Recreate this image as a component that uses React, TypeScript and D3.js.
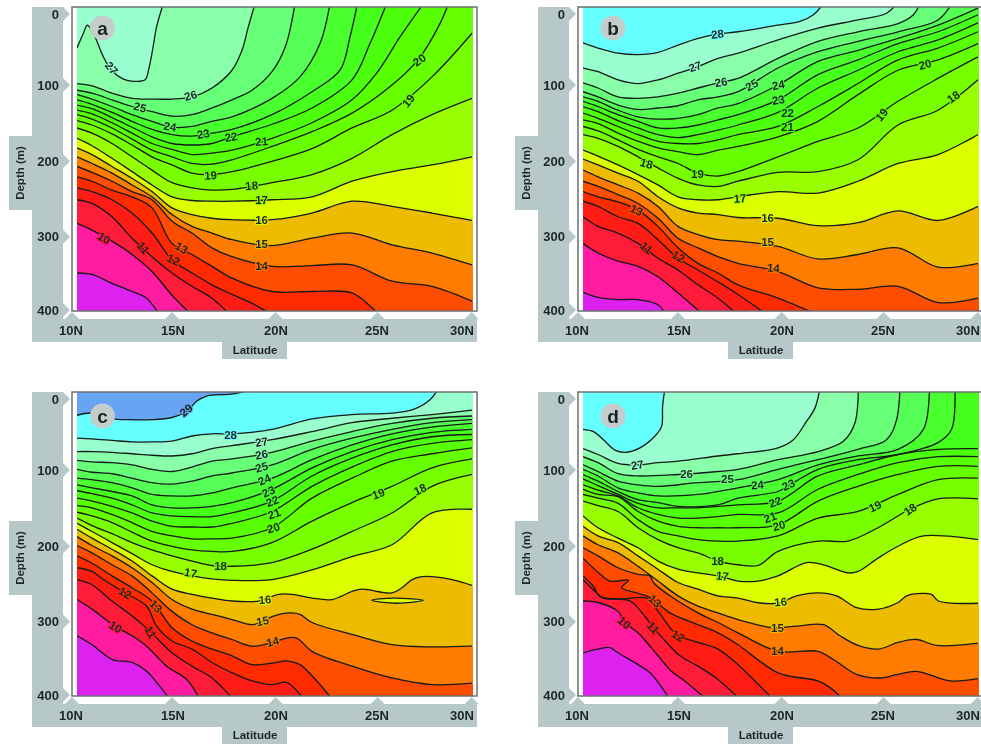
import React from "react";
import * as d3 from "d3";

// Shared latitude sampling for isotherms
const G = [10.25, 11, 12, 13, 14, 15, 16, 17, 18, 20, 22, 24, 26, 28, 30];
const G18 = G.slice(0, 9);

type Iso = { t: number; lat: number[]; d: number[] };
type Lab = [string, number, number, number];

const isoA: Iso[] = [
  { t: 27, lat: [10.25, 10.57, 10.77, 11.15, 11.57, 11.98, 12.57, 13.07, 13.65, 13.85, 14.07, 14.23, 14.57], d: [46, 26, 15, 31, 58, 76, 88, 91, 89, 73, 42, 17, -14] },
  { t: 26, lat: [...G18, 18.5, 18.82, 19.15], d: [94, 97, 107, 114, 115, 115, 112, 100, 76, 49, 17, -14] },
  { t: 25, lat: [...G18, 19, 20, 20.67, 21.15], d: [103, 107, 116, 125, 132, 138, 136, 127, 116, 103, 78, 44, -14] },
  { t: 24, lat: [...G18, 20, 21.4, 22.4, 22.9], d: [109, 115, 125, 136, 145, 153, 152, 145, 139, 114, 85, 40, -14] },
  { t: 23, lat: [...G18, 20, 22, 23.4, 23.9, 24.27], d: [116, 122, 133, 145, 156, 163, 165, 161, 156, 136, 105, 76, 31, -14] },
  { t: 22, lat: [...G18, 20, 22, 24, 24.9, 25.73], d: [123, 128, 140, 153, 166, 175, 177, 175, 166, 149, 127, 89, 40, -14] },
  { t: 21, lat: [...G18, 20, 22, 24, 25.23, 26.4, 27.57], d: [130, 135, 147, 161, 175, 183, 190, 188, 184, 168, 147, 116, 80, 31, -14] },
  { t: 20, lat: [...G18, 20, 22, 24, 26, 27.3, 28.4, 28.82], d: [136, 142, 154, 169, 184, 193, 202, 203, 197, 179, 159, 134, 96, 62, 13, -14] },
  { t: 19, lat: G, d: [144, 150, 162, 177, 193, 204, 215, 217, 213, 199, 182, 154, 130, 85, 26] },
  { t: 18, lat: G, d: [154, 161, 175, 193, 211, 228, 235, 238, 237, 228, 217, 195, 163, 136, 114] },
  { t: 17, lat: G, d: [168, 178, 195, 213, 231, 247, 252, 253, 253, 251, 247, 226, 213, 204, 193] },
  { t: 16, lat: G, d: [181, 190, 206, 222, 240, 262, 271, 276, 278, 278, 269, 253, 260, 269, 279] },
  { t: 15, lat: G, d: [193, 202, 215, 231, 247, 271, 287, 296, 305, 313, 303, 296, 312, 323, 339] },
  { t: 14, lat: G, d: [206, 214, 226, 240, 251, 280, 296, 316, 328, 341, 340, 339, 361, 368, 388] },
  { t: 13, lat: [...G18, 20, 22, 24, 25, 25.5], d: [220, 226, 238, 247, 262, 310, 325, 341, 357, 375, 375, 377, 397, 409] },
  { t: 12, lat: [...G18, 19, 20], d: [235, 240, 251, 269, 296, 332, 350, 366, 379, 391, 406] },
  { t: 11, lat: G18, d: [251, 256, 274, 303, 328, 350, 368, 384, 409] },
  { t: 10, lat: G.slice(0, 7), d: [283, 292, 307, 325, 348, 380, 407] },
  { t: 9, lat: [10.25, 11, 12, 13, 13.73, 14.23, 14.6], d: [350, 352, 364, 375, 384, 400, 409] },
];
const labelsA: Lab[] = [
  ["27", 11.98, 73, 50], ["26", 15.93, 110, -15], ["25", 13.4, 126, 15], ["24", 14.9, 152, 10],
  ["23", 16.57, 162, -10], ["22", 17.95, 166, -10], ["21", 19.48, 172, -5], ["20", 27.37, 62, -35],
  ["19", 26.82, 117, -50], ["19", 16.93, 218, -3], ["18", 18.98, 232, -5], ["17", 19.48, 251, 0],
  ["16", 19.48, 278, 0], ["15", 19.48, 310, 0], ["14", 19.48, 340, 0], ["13", 15.48, 316, 30],
  ["12", 15.07, 332, 25], ["11", 13.57, 316, 50], ["10", 11.6, 303, 30],
];

const isoB: Iso[] = [
  { t: 28, lat: [...G18, 20, 21.1, 21.77, 22.27], d: [39, 46, 53, 55, 52, 42, 33, 27, 24, 15, 10, 1, -14] },
  { t: 27, lat: [...G18, 20, 22, 24, 25.43, 25.93], d: [73, 78, 89, 94, 89, 80, 71, 60, 53, 35, 19, 8, -1, -14] },
  { t: 26, lat: [...G18, 20, 22, 24, 26, 26.77, 27.1], d: [93, 100, 112, 114, 112, 107, 100, 93, 87, 60, 37, 24, 13, 1, -14] },
  { t: 25, lat: [...G18, 20, 22, 24, 26, 28, 28.68], d: [105, 112, 123, 129, 127, 124, 116, 112, 105, 73, 51, 37, 24, 8, -14] },
  { t: 24, lat: G, d: [112, 118, 130, 139, 142, 141, 136, 127, 121, 96, 64, 49, 33, 15, -8] },
  { t: 23, lat: G, d: [118, 125, 136, 145, 154, 154, 150, 143, 136, 116, 82, 62, 40, 24, 1] },
  { t: 22, lat: G, d: [125, 132, 144, 154, 163, 167, 163, 157, 150, 133, 100, 76, 51, 35, 12] },
  { t: 21, lat: G, d: [134, 141, 152, 163, 172, 175, 175, 170, 163, 152, 125, 94, 62, 46, 24] },
  { t: 20, lat: G, d: [143, 148, 161, 172, 181, 186, 190, 184, 179, 166, 145, 109, 76, 62, 40] },
  { t: 19, lat: G, d: [152, 158, 170, 183, 193, 202, 215, 219, 213, 193, 172, 154, 118, 87, 58] },
  { t: 18, lat: G, d: [163, 168, 179, 193, 208, 222, 231, 233, 226, 214, 213, 197, 150, 130, 89] },
  { t: 17, lat: G, d: [184, 192, 204, 217, 231, 247, 251, 251, 247, 240, 242, 226, 202, 190, 163] },
  { t: 16, lat: G, d: [196, 204, 215, 226, 247, 262, 269, 271, 275, 276, 286, 282, 266, 279, 260] },
  { t: 15, lat: G, d: [211, 220, 231, 242, 260, 287, 298, 305, 307, 314, 331, 325, 316, 342, 337] },
  { t: 14, lat: G, d: [226, 233, 244, 256, 276, 303, 316, 328, 337, 348, 370, 372, 368, 390, 384] },
  { t: 13, lat: [...G18, 20, 22.2], d: [240, 247, 254, 265, 287, 316, 337, 350, 366, 384, 409] },
  { t: 12, lat: [...G18, 19.6], d: [253, 260, 274, 283, 305, 330, 346, 362, 379, 409] },
  { t: 11, lat: [10.25, 11, 12, 13, 14, 15, 16, 17, 18.1], d: [274, 287, 296, 310, 330, 346, 366, 384, 409] },
  { t: 10, lat: G.slice(0, 8), d: [310, 323, 334, 341, 355, 377, 400, 422] },
  { t: 9, lat: [10.25, 11, 12, 13, 14, 14.5], d: [376, 383, 386, 386, 393, 412] },
];
const labelsB: Lab[] = [
  ["28", 16.97, 27, -5], ["27", 15.85, 71, -20], ["26", 17.15, 92, -10], ["25", 18.68, 96, -30],
  ["24", 20.02, 96, -10], ["23", 20.02, 116, -10], ["22", 20.48, 133, 0], ["21", 20.47, 152, 0],
  ["20", 27.35, 68, -15], ["19", 25.18, 136, -50], ["18", 28.77, 112, -35], ["18", 13.43, 202, 15],
  ["19", 15.97, 216, 0], ["17", 18.1, 249, -5], ["16", 19.48, 275, 0], ["15", 19.48, 308, 0],
  ["14", 19.77, 343, 5], ["13", 12.93, 265, 25], ["12", 15.02, 328, 30], ["11", 13.43, 316, 40],
];

const isoC: Iso[] = [
  { t: 29, lat: [10.25, 11, 12, 13, 14, 15, 15.73, 16.23, 16.73, 18.07, 19.15], d: [22, 19, 27, 28, 28, 25, 17, 3, -4, -7, -14] },
  { t: 28, lat: [...G18, 20, 22, 24, 26, 27.07, 27.9, 28.32], d: [53, 54, 56, 58, 58, 57, 50, 47, 47, 41, 27, 21, 19, 14, 1, -14] },
  { t: 27, lat: G, d: [71, 71, 72, 74, 76, 77, 74, 67, 63, 55, 44, 32, 26, 21, 15] },
  { t: 26, lat: G, d: [83, 85, 86, 89, 95, 98, 92, 84, 81, 72, 57, 44, 33, 26, 23] },
  { t: 25, lat: G, d: [95, 99, 101, 107, 113, 115, 111, 104, 100, 89, 68, 53, 41, 32, 28] },
  { t: 24, lat: G, d: [107, 109, 113, 120, 129, 131, 131, 127, 120, 107, 82, 62, 47, 38, 33] },
  { t: 23, lat: G, d: [116, 120, 125, 131, 143, 147, 147, 145, 140, 122, 93, 71, 55, 45, 41] },
  { t: 22, lat: G, d: [124, 128, 134, 143, 154, 158, 159, 159, 154, 138, 104, 80, 62, 51, 48] },
  { t: 21, lat: G, d: [134, 138, 145, 154, 165, 172, 173, 173, 168, 152, 118, 92, 71, 60, 55] },
  { t: 20, lat: G, d: [144, 147, 156, 167, 179, 185, 189, 189, 188, 174, 134, 107, 84, 74, 66] },
  { t: 19, lat: G, d: [153, 158, 167, 180, 192, 199, 204, 206, 206, 194, 165, 140, 118, 93, 81] },
  { t: 18, lat: G, d: [161, 171, 182, 194, 204, 212, 219, 225, 226, 221, 203, 179, 154, 118, 102] },
  { t: 17, lat: G, d: [168, 179, 194, 209, 224, 233, 239, 243, 245, 244, 231, 213, 197, 154, 149] },
  { t: 16, lat: [...G18, 19.32, 20.33, 21, 22, 23, 24, 24.5, 26, 26.5, 27, 27.5, 29, 30], d: [176, 188, 203, 219, 239, 257, 264, 269, 273, 273, 264, 264, 269, 271, 260, 257, 262, 255, 244, 240, 244, 252] },
  { t: 15, lat: [...G18, 19, 19.57, 20, 20.9, 21.4, 22, 24, 26, 28, 30], d: [186, 198, 212, 228, 248, 271, 284, 291, 298, 305, 300, 294, 289, 291, 302, 318, 332, 335, 334] },
  { t: 14, lat: [...G18, 19, 20, 20.73, 21.23, 22, 24, 26, 28, 30], d: [198, 208, 224, 239, 262, 287, 305, 316, 325, 334, 329, 323, 323, 341, 361, 377, 386, 384] },
  { t: 13, lat: [...G18, 19, 20, 20.73, 21.4, 22, 23.15], d: [212, 222, 239, 255, 273, 309, 327, 338, 347, 359, 357, 354, 359, 374, 410] },
  { t: 12, lat: [10.25, 11, 11.57, 12.65, 13.73, 14.23, 15, 16, 17, 18, 19, 20, 20.73, 21.6], d: [228, 233, 244, 262, 280, 307, 327, 338, 356, 370, 381, 386, 383, 406] },
  { t: 11, lat: [10.25, 11, 12, 13, 13.9, 15, 16, 17, 18.07], d: [244, 251, 273, 293, 314, 343, 361, 377, 406] },
  { t: 10, lat: [10.25, 11, 12.15, 13, 13.73, 14.73, 15.73, 16.4], d: [271, 284, 307, 320, 334, 361, 379, 406] },
  { t: 9, lat: [10.25, 11, 12, 13, 13.73, 14.23, 14.9], d: [320, 332, 352, 356, 368, 383, 406] },
];
const lensCLat = [24.98, 26.07, 27.57, 26.23];
const lensCDepth = [272, 269, 272, 276];
const labelsC: Lab[] = [
  ["29", 15.7, 15, -40], ["28", 17.93, 48, 0], ["27", 19.48, 58, -10], ["26", 19.48, 75, -10],
  ["25", 19.48, 92, -15], ["24", 19.62, 109, -25], ["23", 19.82, 125, -25], ["22", 20.02, 138, -20],
  ["21", 20.1, 155, -20], ["20", 20.07, 174, -15], ["19", 25.32, 128, -20], ["18", 27.4, 122, -25],
  ["18", 17.43, 225, 0], ["17", 15.93, 235, 10], ["16", 19.65, 271, -5], ["15", 19.53, 300, -10],
  ["14", 20.03, 328, -15], ["13", 14.2, 280, 45], ["12", 12.65, 262, 30], ["11", 13.93, 315, 60],
  ["10", 12.18, 308, 30],
];

const isoD: Iso[] = [
  { t: 28, lat: [10.25, 10.77, 11.27, 11.85, 12.35, 13.1, 13.85, 14.18, 14.23, 14.35], d: [41, 44, 55, 69, 72, 66, 50, 37, 10, -15] },
  { t: 27, lat: [10.25, 11, 12, 13, 14, 15, 17, 18, 20, 20.77, 21.43, 21.85, 22.1], d: [67, 75, 87, 89, 86, 84, 77, 74, 66, 55, 30, 12, -15] },
  { t: 26, lat: [10.25, 11, 12, 13, 15, 17, 18, 20, 22, 23.27, 23.85, 24.02], d: [78, 86, 101, 104, 102, 98, 95, 82, 71, 57, 32, -15] },
  { t: 25, lat: [10.25, 11, 12, 13, 14, 16, 18, 20, 22, 24, 25.43, 25.93, 26.1], d: [89, 98, 111, 116, 118, 113, 109, 95, 82, 68, 55, 28, -15] },
  { t: 24, lat: [10.25, 11, 12, 13, 14, 16, 18, 20, 22, 24, 26, 27.27, 27.57], d: [95, 104, 120, 127, 131, 129, 120, 109, 89, 77, 68, 41, -15] },
  { t: 23, lat: [10.25, 11, 12, 13, 14, 15, 17, 18, 20, 20.6, 22, 24, 26, 28, 28.68, 28.85], d: [102, 111, 125, 136, 140, 145, 143, 134, 125, 116, 95, 82, 75, 59, 41, -15] },
  { t: 22, lat: G, d: [108, 117, 129, 141, 147, 147, 147, 145, 143, 138, 104, 89, 75, 68, 67] },
  { t: 21, lat: G, d: [116, 123, 131, 147, 156, 161, 161, 159, 156, 154, 122, 102, 86, 78, 78] },
  { t: 20, lat: G, d: [122, 129, 132, 152, 165, 172, 174, 174, 174, 170, 138, 118, 102, 91, 91] },
  { t: 19, lat: G, d: [129, 134, 141, 163, 179, 185, 190, 192, 192, 185, 161, 152, 129, 109, 107] },
  { t: 18, lat: [...G18, 19, 20, 22, 23.5, 25, 26.6, 28, 30], d: [138, 144, 152, 174, 190, 201, 208, 219, 224, 225, 206, 192, 192, 174, 149, 135, 135] },
  { t: 17, lat: [...G18, 19, 20, 21.43, 22.27, 23.5, 24, 25, 26, 27.27, 30], d: [158, 174, 188, 201, 219, 230, 235, 239, 246, 246, 239, 221, 224, 235, 233, 215, 199, 185, 190] },
  { t: 16, lat: [...G18, 18.93, 20, 20.93, 22, 22.93, 23.93, 25.02, 26, 26.43, 26.93, 27.68, 28.02, 30], d: [172, 185, 194, 212, 230, 248, 257, 266, 269, 275, 276, 266, 262, 266, 282, 284, 275, 266, 263, 264, 273, 276] },
  { t: 15, lat: [...G18, 19.77, 20.93, 22.27, 23.1, 24, 25.02, 26, 26.93, 27.93, 30], d: [185, 197, 208, 226, 246, 266, 280, 289, 298, 309, 307, 305, 320, 333, 338, 329, 325, 333, 330] },
  { t: 14, lat: [10.25, 11, 12, 13, 13.6, 13.77, 14.6, 16, 17, 18, 20, 22, 22.77, 23.93, 25.1, 26, 26.93, 28.6, 30], d: [201, 212, 228, 237, 239, 248, 266, 289, 302, 316, 341, 341, 352, 372, 377, 372, 368, 381, 378] },
  { t: 13, lat: [10.25, 11, 11.6, 12.52, 12.18, 12.93, 13.43, 13.85, 14.6, 16, 17, 18, 20, 22, 22.6, 23.27], d: [215, 234, 246, 245, 255, 262, 266, 273, 289, 305, 316, 332, 370, 381, 390, 406] },
  { t: 12, lat: [10.25, 10.77, 11.1, 12.27, 13.43, 13.93, 14.6, 15.02, 16, 17, 18, 18.77, 19.77], d: [239, 253, 267, 270, 269, 284, 309, 320, 329, 338, 359, 379, 406] },
  { t: 11, lat: [10.25, 10.93, 11.27, 12.6, 13.27, 13.77, 14.43, 15.1, 16, 17, 18.1], d: [244, 262, 269, 273, 291, 309, 329, 347, 361, 379, 406] },
  { t: 10, lat: [10.25, 11, 12, 12.35, 13, 14, 14.67, 15.33, 16.43], d: [273, 275, 287, 302, 316, 347, 368, 381, 406] },
  { t: 9, lat: [10.25, 11, 11.6, 12, 13, 13.6, 14.6], d: [343, 338, 336, 343, 359, 370, 406] },
];
const labelsD: Lab[] = [
  ["27", 12.97, 89, -10], ["26", 15.43, 101, 0], ["25", 17.47, 108, 0], ["24", 18.97, 116, -5],
  ["23", 20.52, 116, -25], ["22", 19.85, 139, -20], ["21", 19.6, 160, -20], ["20", 20.05, 171, -15],
  ["19", 24.85, 145, -25], ["18", 26.6, 149, -35], ["18", 16.98, 219, 0], ["17", 17.22, 239, 5],
  ["16", 20.13, 274, -5], ["15", 19.97, 309, 0], ["14", 19.97, 341, 0], ["13", 13.85, 273, 40],
  ["12", 15, 320, 30], ["11", 13.77, 309, 50], ["10", 12.32, 302, 40],
];

// Colour of the band whose lower bound is the given temperature
const bandColor: Record<number, string> = {
  29: "#68a4f4", 28: "#66ffff", 27: "#99ffcf", 26: "#88ffa8", 25: "#66ff77", 24: "#55ff55",
  23: "#48ff2e", 22: "#44ff1a", 21: "#4cff0d", 20: "#58ff00", 19: "#66ff00", 18: "#77ff00",
  17: "#99ff00", 16: "#dcff00", 15: "#edbb00", 14: "#ff7b00", 13: "#ff4d00", 12: "#ff2a00",
  11: "#ff1c14", 10: "#ff1a38", 9: "#ff1aa0", 8: "#dd22f0",
};

const depthTickLabels = ["0", "100", "200", "300", "400"];
const depthTickPos = [0, 96, 199, 301, 400];
const latTickLabels = ["10N", "15N", "20N", "25N", "30N"];
const latTickPos = [10, 15, 20.18, 25.28, 29.98];
const latLabelPos = [9.95, 15.05, 20.2, 25.25, 29.5];

const panels = [
  { key: "a", iso: isoA, labels: labelsA, dx: 0, dy: 0, base: 27 },
  { key: "b", iso: isoB, labels: labelsB, dx: 506, dy: 0, base: 28 },
  { key: "c", iso: isoC, labels: labelsC, dx: 0, dy: 385, base: 29 },
  { key: "d", iso: isoD, labels: labelsD, dx: 506, dy: 385, base: 28 },
];

const x = d3.scaleLinear().domain([10, 30]).range([72, 472]);
const y = d3.scaleLinear().domain([0, 400]).range([14, 310]);
const curve = d3.curveCatmullRom.alpha(0.5);
const lineGen = d3.line<[number, number]>().x((p) => x(p[0])).y((p) => y(p[1])).curve(curve);

const GREY = "#b6c8c8";
const INK = "#1f2726";
const SANS = "'Liberation Sans', Arial, sans-serif";

function Panel({ p }: { p: (typeof panels)[number] }) {
  const clip = `clip-${p.key}`;
  const left = x(10.25);
  const right = x(30.05);
  const top = 7;
  const bottom = 311;
  const hasLens = p.key === "c";
  return (
    <g transform={`translate(${p.dx},${p.dy})`}>
      <defs>
        <clipPath id={clip}>
          <rect x={left} y={top} width={right - left} height={bottom - top} />
        </clipPath>
      </defs>
      {/* label bands */}
      <rect x={32} y={7} width={31} height={335} fill={GREY} />
      <rect x={32} y={319} width={445} height={23} fill={GREY} />
      <rect x={9} y={136} width={24} height={74} fill={GREY} />
      <rect x={222} y={341} width={65} height={18} fill={GREY} />
      {depthTickPos.map((d, i) => (
        <g key={i}>
          <path d={`M63,${y(d) - 7}L70,${y(d)}L63,${y(d) + 7}Z`} fill={GREY} />
          <text x={59} y={y(d) + 4.5} textAnchor="end" fontFamily={SANS} fontWeight={700} fontSize={13} fill={INK}>
            {depthTickLabels[i]}
          </text>
        </g>
      ))}
      {latTickPos.map((l, i) => (
        <g key={i}>
          <path d={`M${x(l) - 7},319L${x(l)},312L${x(l) + 7},319Z`} fill={GREY} />
          <text x={x(latLabelPos[i])} y={335} textAnchor="middle" fontFamily={SANS} fontWeight={700} fontSize={13} fill={INK}>
            {latTickLabels[i]}
          </text>
        </g>
      ))}
      <text transform="translate(24,173) rotate(-90)" textAnchor="middle" fontFamily={SANS} fontWeight={700} fontSize={11.5} fill={INK}>
        Depth (m)
      </text>
      <text x={255} y={354} textAnchor="middle" fontFamily={SANS} fontWeight={700} fontSize={11.5} fill={INK}>
        Latitude
      </text>

      {/* filled bands */}
      <g clipPath={`url(#${clip})`}>
        <rect x={left} y={top} width={right - left} height={bottom - top} fill={bandColor[p.base]} />
        {p.iso.map((c) => {
          const pts = c.lat.map((l, i) => [l, c.d[i]] as [number, number]);
          const last = c.d[c.d.length - 1];
          const closeY = last < 0 ? y(-30) : y(last);
          const dPath =
            lineGen(pts) +
            `L${x(31)},${closeY}L${x(31)},${y(500)}L${x(9)},${y(500)}L${x(9)},${y(c.d[0])}Z`;
          return <path key={c.t} d={dPath} fill={bandColor[c.t - 1]} />;
        })}
        {p.iso.map((c) => {
          const pts = c.lat.map((l, i) => [l, c.d[i]] as [number, number]);
          return <path key={c.t} d={lineGen(pts) ?? ""} fill="none" stroke="#141a1a" strokeWidth={1.3} />;
        })}
        {hasLens && (
          <path
            d={
              d3
                .line<[number, number]>()
                .x((q) => x(q[0]))
                .y((q) => y(q[1]))
                .curve(d3.curveCatmullRomClosed)(lensCLat.map((l, i) => [l, lensCDepth[i]])) ?? ""
            }
            fill={bandColor[16]}
            stroke="#141a1a"
            strokeWidth={1.3}
          />
        )}
        {p.labels.map(([t, la, de, ang], i) => (
          <text
            key={i}
            transform={`translate(${x(la)},${y(de)}) rotate(${ang})`}
            textAnchor="middle"
            dy="0.36em"
            fontFamily={SANS}
            fontWeight={700}
            fontSize={11.5}
            fill={INK}
            stroke={bandColor[+t]}
            strokeWidth={2}
            paintOrder="stroke"
          >
            {t}
          </text>
        ))}
      </g>
      {/* frame */}
      <rect x={72} y={top} width={405} height={bottom - top} fill="none" stroke="#6b6f70" strokeWidth={1.5} />
      {/* panel letter */}
      <circle cx={p.key === "a" || p.key === "c" ? 102.5 : 107} cy={p.dy ? 31 : 28} r={12.5} fill="#c4cccc" />
      <text
        x={p.key === "a" || p.key === "c" ? 102.5 : 107}
        y={(p.dy ? 31 : 28) + 6.5}
        textAnchor="middle"
        fontFamily={SANS}
        fontWeight={700}
        fontSize={19}
        fill="#1d2424"
      >
        {p.key}
      </text>
    </g>
  );
}

export default function App() {
  return (
    <svg
      width={981}
      height={744}
      viewBox="0 0 981 744"
      style={{ position: "absolute", left: 0, top: 0, background: "#fff" }}
    >
      <defs>
        <filter id="soft" x="0" y="0" width="100%" height="100%">
          <feGaussianBlur stdDeviation="0.45" />
        </filter>
      </defs>
      <g filter="url(#soft)">
        {panels.map((p) => (
          <Panel key={p.key} p={p} />
        ))}
      </g>
    </svg>
  );
}
